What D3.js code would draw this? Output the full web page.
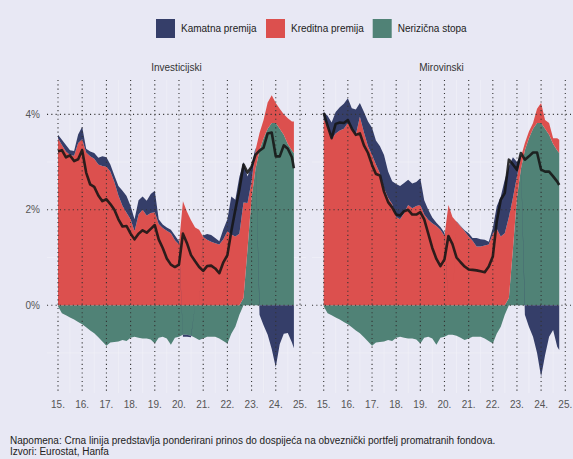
<!DOCTYPE html>
<html>
<head>
<meta charset="utf-8">
<script src="https://cdn.jsdelivr.net/npm/d3@7"></script>
<style>
  body { margin: 0; background: #e8e8f4; }
  svg { display: block; font-family: "Liberation Sans", Arial, sans-serif; }
</style>
</head>
<body>
<svg id="chart" width="573" height="459"></svg>
<script>
// bi-monthly observations, Jan 2015 - Oct 2024
const months = [
  "2015-01","2015-03","2015-05","2015-07","2015-09","2015-11","2016-01","2016-03","2016-05","2016-07",
  "2016-09","2016-11","2017-01","2017-03","2017-05","2017-07","2017-09","2017-11","2018-01","2018-03",
  "2018-05","2018-07","2018-09","2018-11","2019-01","2019-03","2019-05","2019-07","2019-09","2019-11",
  "2020-01","2020-03","2020-05","2020-07","2020-09","2020-11","2021-01","2021-03","2021-05","2021-07",
  "2021-09","2021-11","2022-01","2022-03","2022-05","2022-07","2022-09","2022-11","2023-01","2023-03",
  "2023-05","2023-07","2023-09","2023-11","2024-01","2024-03","2024-05","2024-07","2024-09","2024-10"
];

// Nerizična stopa (same for both fund types)
const nerizicna = [
  -0.02,-0.17,-0.21,-0.26,-0.30,-0.35,-0.40,-0.46,-0.53,-0.59,
  -0.67,-0.76,-0.85,-0.78,-0.77,-0.76,-0.73,-0.75,-0.68,-0.66,
  -0.68,-0.70,-0.70,-0.72,-0.80,-0.68,-0.66,-0.70,-0.83,-0.68,
  -0.66,-0.62,-0.62,-0.64,-0.68,-0.73,-0.70,-0.66,-0.66,-0.66,
  -0.70,-0.75,-0.80,-0.60,-0.45,-0.20,0.15,1.18,2.25,2.85,
  3.25,3.50,3.70,3.82,3.82,3.70,3.57,3.38,3.24,3.19
];

// Investicijski
const kreditnaInv = [
  3.50,3.36,3.22,3.15,3.13,3.40,3.48,3.20,3.12,3.07,
  2.95,2.92,2.90,2.80,2.58,2.30,2.08,1.94,1.80,1.55,
  1.90,2.00,1.88,1.93,1.95,1.70,1.62,1.56,1.51,1.36,
  1.27,2.18,1.96,1.78,1.63,1.58,1.43,1.37,1.33,1.30,
  1.27,1.38,1.55,1.48,1.44,1.50,2.00,0.96,0.35,0.40,
  0.36,0.38,0.55,0.58,0.42,0.42,0.43,0.54,0.61,0.66
];
const kamatnaInv = [
  0.07,0.11,0.14,0.10,0.10,0.18,0.26,0.08,0.10,0.12,
  0.14,0.20,0.20,0.15,0.14,0.20,0.32,0.35,0.28,0.25,
  0.30,0.28,0.31,0.40,0.45,0.10,0.07,0.07,0.07,0.10,
  0.07,-0.04,-0.04,-0.03,0.00,0.00,0.03,0.12,0.14,0.11,
  0.07,0.21,0.25,0.80,0.77,1.19,0.85,0.56,0.33,0.05,
  -0.20,-0.42,-0.62,-0.92,-1.30,-0.82,-0.60,-0.58,-0.78,-0.90
];
const prinosInv = [
  3.22,3.25,3.10,3.14,3.02,3.06,3.25,2.78,2.53,2.48,
  2.30,2.18,2.22,2.12,2.00,1.80,1.65,1.66,1.50,1.38,
  1.50,1.57,1.52,1.60,1.68,1.38,1.20,0.98,0.85,0.80,
  0.85,1.50,1.30,1.05,0.92,0.80,0.72,0.82,0.83,0.77,
  0.67,0.90,1.05,1.55,2.00,2.42,2.95,2.78,2.90,3.15,
  3.24,3.30,3.60,3.62,3.12,3.12,3.35,3.28,3.10,2.87
];

// Mirovinski
const kreditnaMir = [
  3.90,3.76,3.48,3.60,3.66,3.70,3.82,3.70,3.57,3.95,
  3.62,3.33,3.15,2.95,2.76,2.45,2.25,2.12,1.85,1.80,
  1.93,2.10,2.03,2.08,2.10,1.90,1.79,1.72,1.66,1.58,
  1.45,2.10,1.85,1.75,1.65,1.55,1.44,1.35,1.23,1.23,
  1.25,1.27,1.50,1.60,1.44,1.51,1.70,1.07,0.45,0.25,
  0.15,0.14,0.12,0.30,0.42,0.18,0.25,0.12,0.26,0.28
];
const kamatnaMir = [
  0.15,0.21,0.35,0.45,0.49,0.52,0.52,0.43,0.53,0.29,
  0.43,0.52,0.57,0.50,0.57,0.70,0.55,0.48,0.69,0.70,
  0.63,0.53,0.52,0.50,0.56,0.30,0.21,0.12,0.07,0.06,
  0.07,0.00,0.00,0.01,0.01,0.02,0.07,0.06,0.18,0.15,
  0.12,0.06,0.12,0.47,0.84,1.12,1.06,0.85,0.30,0.05,
  -0.20,-0.45,-0.66,-1.00,-1.50,-1.05,-0.66,-0.52,-0.87,-0.94
];
const prinosMir = [
  4.03,3.76,3.50,3.80,3.83,3.82,3.88,3.70,3.57,3.60,
  3.35,3.19,2.94,2.75,2.72,2.38,2.16,2.05,1.90,1.88,
  1.97,2.00,1.90,1.90,1.95,1.80,1.50,1.20,0.97,0.82,
  0.96,1.45,1.28,1.00,0.90,0.81,0.75,0.74,0.73,0.71,
  0.69,0.81,1.02,1.75,2.21,2.35,3.05,2.95,2.84,3.19,
  3.05,3.12,3.20,3.20,2.84,2.80,2.80,2.70,2.59,2.52
];

const panelTitles = ["Investicijski", "Mirovinski"];
const seriesKeys = ["ner", "kre", "kam"];
const seriesNames = ["Kamatna premija", "Kreditna premija", "Nerizična stopa"];
const yearTicks = [2015, 2016, 2017, 2018, 2019, 2020, 2021, 2022, 2023, 2024, 2025];
const yearLabels = ["15.", "16.", "17.", "18.", "19.", "20.", "21.", "22.", "23.", "24.", "25."];
const pctTicks = [0, 2, 4];
const minorPct = [-1, 1, 3];

const colors = { kam: "#353e69", kre: "#dc504e", ner: "#508276" };
const legendColors = [colors.kam, colors.kre, colors.ner];

const svg = d3.select("#chart");
const parse = d3.timeParse("%Y-%m");
const dates = months.map(parse);

const panels = [
  { title: panelTitles[0], left: 47, right: 306, x0: 58, x1: 300,
    kre: kreditnaInv, kam: kamatnaInv, line: prinosInv },
  { title: panelTitles[1], left: 312, right: 571, x0: 323.7, x1: 565.3,
    kre: kreditnaMir, kam: kamatnaMir, line: prinosMir }
];

const y = d3.scaleLinear().domain([-1.84, 4.72]).range([393, 80]);
const plotTop = 80, plotBottom = 393;

const stack = d3.stack().keys(seriesKeys).offset(d3.stackOffsetDiverging);

panels.forEach((p, pi) => {
  const x = d3.scaleTime()
    .domain([new Date(2015, 0, 1), new Date(2025, 0, 1)])
    .range([p.x0, p.x1]);

  const rows = dates.map((d, i) => ({ date: d, ner: nerizicna[i], kre: p.kre[i], kam: p.kam[i], line: p.line[i] }));
  const layers = stack(rows);

  const g = svg.append("g");

  // faint minor grid
  g.selectAll("line.minorh").data(minorPct).join("line")
    .attr("x1", p.left).attr("x2", p.right)
    .attr("y1", d => y(d)).attr("y2", d => y(d))
    .attr("stroke", "#f1f1f8").attr("stroke-width", 0.6);
  g.selectAll("line.minorv").data(yearTicks.slice(0, -1)).join("line")
    .attr("x1", d => x(new Date(d, 6, 1))).attr("x2", d => x(new Date(d, 6, 1)))
    .attr("y1", plotTop).attr("y2", plotBottom)
    .attr("stroke", "#f1f1f8").attr("stroke-width", 0.6);

  const area = d3.area()
    .x(d => x(d.data.date))
    .y0(d => y(d[0]))
    .y1(d => y(d[1]));

  g.selectAll("path.layer").data(layers).join("path")
    .attr("class", "layer")
    .attr("fill", d => colors[d.key])
    .attr("d", area);

  // dotted grid on top of the areas
  g.selectAll("line.gx").data(yearTicks).join("line")
    .attr("x1", d => x(new Date(d, 0, 1))).attr("x2", d => x(new Date(d, 0, 1)))
    .attr("y1", plotTop).attr("y2", plotBottom)
    .attr("stroke", "#333").attr("stroke-width", 1.1)
    .attr("stroke-dasharray", "1.1,3.2");
  g.selectAll("line.gy").data(pctTicks).join("line")
    .attr("x1", p.left).attr("x2", p.right)
    .attr("y1", d => y(d)).attr("y2", d => y(d))
    .attr("stroke", "#333").attr("stroke-width", 1.1)
    .attr("stroke-dasharray", "1.1,3.2");

  // weighted yield line
  g.append("path")
    .datum(rows)
    .attr("fill", "none")
    .attr("stroke", "#141414")
    .attr("stroke-opacity", 0.88)
    .attr("stroke-width", 2.6)
    .attr("stroke-linejoin", "round")
    .attr("d", d3.line().x(d => x(d.date)).y(d => y(d.line)));

  // x tick labels
  g.selectAll("text.xt").data(yearTicks).join("text")
    .attr("x", d => x(new Date(d, 0, 1)))
    .attr("y", 408)
    .attr("text-anchor", "middle")
    .attr("font-size", 10)
    .attr("fill", "#555")
    .text((d, i) => yearLabels[i]);

  // panel title
  g.append("text")
    .attr("x", (p.left + p.right) / 2)
    .attr("y", 71)
    .attr("text-anchor", "middle")
    .attr("font-size", 10)
    .attr("fill", "#333")
    .text(p.title);

  if (pi === 0) {
    g.selectAll("text.yt").data(pctTicks).join("text")
      .attr("x", 40)
      .attr("y", d => y(d) + 3.5)
      .attr("text-anchor", "end")
      .attr("font-size", 10)
      .attr("fill", "#555")
      .text(d => d + "%");
  }
});

// legend
const legendX = [156, 266, 372.7];
const legend = svg.append("g");
seriesNames.forEach((name, i) => {
  legend.append("rect")
    .attr("x", legendX[i]).attr("y", 19)
    .attr("width", 19).attr("height", 19)
    .attr("fill", legendColors[i]);
  legend.append("text")
    .attr("x", legendX[i] + 25).attr("y", 32)
    .attr("font-size", 10)
    .attr("fill", "#222")
    .text(name);
});

// notes
const notes = [
  "Napomena: Crna linija predstavlja ponderirani prinos do dospijeća na obveznički portfelj promatranih fondova.",
  "Izvori: Eurostat, Hanfa"
];
svg.selectAll("text.note").data(notes).join("text")
  .attr("x", 10)
  .attr("y", (d, i) => 444 + i * 11)
  .attr("font-size", 10)
  .attr("fill", "#222")
  .text(d => d);
</script>
</body>
</html>
